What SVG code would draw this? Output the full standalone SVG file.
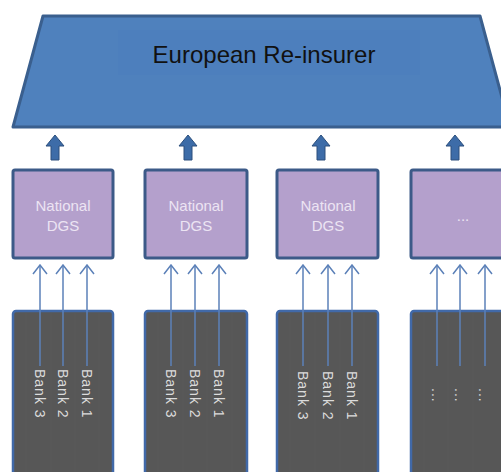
<svg xmlns="http://www.w3.org/2000/svg" width="501" height="472" viewBox="0 0 501 472">
<defs>
<style>
.top{fill:#4f81bd;stroke:#3a5f8e;stroke-width:3;stroke-linejoin:round}
.dgs{fill:#b4a0cc;stroke:#3c5a88;stroke-width:3}
.bank{fill:#575757;stroke:#4169a8;stroke-width:2.5}
.stripe{stroke:#626262;stroke-width:1;opacity:0.3}
.big{font-family:"Liberation Sans",Arial,sans-serif;font-size:24px;fill:#111}
.dtxt{font-family:"Liberation Sans",Arial,sans-serif;font-size:15px;fill:#ece4f3;text-anchor:middle}
.btxt{font-family:"Liberation Sans",Arial,sans-serif;font-size:14px;fill:#dcdcdc;letter-spacing:1px}
.thin{stroke:#5b80b8;stroke-width:1.5;fill:none;marker-end:url(#open)}
.blk{fill:#3d6ca8;stroke:#2c4f7c;stroke-width:1}
</style>
<marker id="open" viewBox="-1 -8 11 16" refX="9" refY="0" markerWidth="11" markerHeight="16" markerUnits="userSpaceOnUse" orient="auto">
<path d="M0,-7 L9,0 L0,7" fill="none" stroke="#5b80b8" stroke-width="1.5"/>
</marker>
</defs>
<rect width="501" height="472" fill="#ffffff"/>

<g id="reinsurer">
<polygon class="top" points="43,16 480,16 510,127 13,127"/>
<rect x="118" y="30" width="302" height="45" fill="#4d7fbd"/>
<text class="big" x="264" y="63" text-anchor="middle">European Re-insurer</text>
</g>

<g id="dgs1"><rect class="dgs" x="13" y="170" width="100" height="88" rx="2"/><text class="dtxt" x="63" y="211">National</text><text class="dtxt" x="63" y="231">DGS</text></g>
<g id="dgs2"><rect class="dgs" x="145" y="170" width="102" height="88" rx="2"/><text class="dtxt" x="196" y="211">National</text><text class="dtxt" x="196" y="231">DGS</text></g>
<g id="dgs3"><rect class="dgs" x="277" y="170" width="101" height="88" rx="2"/><text class="dtxt" x="328" y="211">National</text><text class="dtxt" x="328" y="231">DGS</text></g>
<g id="dgs4"><rect class="dgs" x="411" y="170" width="100" height="88" rx="2"/><text class="dtxt" x="463" y="221">...</text></g>

<g id="banks1"><rect class="bank" x="13" y="311" width="100" height="175" rx="3"/>
<line class="stripe" x1="26" y1="313" x2="26" y2="472"/><line class="stripe" x1="51" y1="313" x2="51" y2="472"/><line class="stripe" x1="75" y1="313" x2="75" y2="472"/><line class="stripe" x1="99" y1="313" x2="99" y2="472"/>
<text class="btxt" transform="translate(35,369) rotate(90)">Bank 3</text>
<text class="btxt" transform="translate(58,369) rotate(90)">Bank 2</text>
<text class="btxt" transform="translate(82,369) rotate(90)">Bank 1</text>
</g>
<g id="banks2"><rect class="bank" x="145" y="311" width="102" height="175" rx="3"/>
<line class="stripe" x1="158" y1="313" x2="158" y2="472"/><line class="stripe" x1="183" y1="313" x2="183" y2="472"/><line class="stripe" x1="207" y1="313" x2="207" y2="472"/><line class="stripe" x1="232" y1="313" x2="232" y2="472"/>
<text class="btxt" transform="translate(166,369) rotate(90)">Bank 3</text>
<text class="btxt" transform="translate(190,369) rotate(90)">Bank 2</text>
<text class="btxt" transform="translate(214,369) rotate(90)">Bank 1</text>
</g>
<g id="banks3"><rect class="bank" x="277" y="311" width="101" height="175" rx="3"/>
<line class="stripe" x1="290" y1="313" x2="290" y2="472"/><line class="stripe" x1="315" y1="313" x2="315" y2="472"/><line class="stripe" x1="340" y1="313" x2="340" y2="472"/><line class="stripe" x1="364" y1="313" x2="364" y2="472"/>
<text class="btxt" transform="translate(298,371) rotate(90)">Bank 3</text>
<text class="btxt" transform="translate(323,371) rotate(90)">Bank 2</text>
<text class="btxt" transform="translate(347,371) rotate(90)">Bank 1</text>
</g>
<g id="banks4"><rect class="bank" x="411" y="311" width="100" height="175" rx="3"/>
<line class="stripe" x1="424" y1="313" x2="424" y2="472"/><line class="stripe" x1="448" y1="313" x2="448" y2="472"/><line class="stripe" x1="473" y1="313" x2="473" y2="472"/>
<text class="btxt" transform="translate(432,388) rotate(90)">...</text>
<text class="btxt" transform="translate(455,388) rotate(90)">...</text>
<text class="btxt" transform="translate(479,388) rotate(90)">...</text>
</g>

<g id="connectors">
<polygon class="blk" points="55,135 64,146 59,146 59,160 51,160 51,146 46,146"/>
<polygon class="blk" points="188,135 197,146 192,146 192,160 184,160 184,146 179,146"/>
<polygon class="blk" points="321,135 330,146 325,146 325,160 317,160 317,146 312,146"/>
<polygon class="blk" points="455,135 464,146 459,146 459,160 451,160 451,146 446,146"/>
<line class="thin" x1="40" y1="366" x2="40" y2="265"/>
<line class="thin" x1="63" y1="366" x2="63" y2="265"/>
<line class="thin" x1="87" y1="366" x2="87" y2="265"/>
<line class="thin" x1="171" y1="366" x2="171" y2="265"/>
<line class="thin" x1="195" y1="366" x2="195" y2="265"/>
<line class="thin" x1="219" y1="366" x2="219" y2="265"/>
<line class="thin" x1="303" y1="366" x2="303" y2="265"/>
<line class="thin" x1="328" y1="366" x2="328" y2="265"/>
<line class="thin" x1="352" y1="366" x2="352" y2="265"/>
<line class="thin" x1="437" y1="366" x2="437" y2="265"/>
<line class="thin" x1="460" y1="366" x2="460" y2="265"/>
<line class="thin" x1="485" y1="366" x2="485" y2="265"/>
</g>
</svg>
